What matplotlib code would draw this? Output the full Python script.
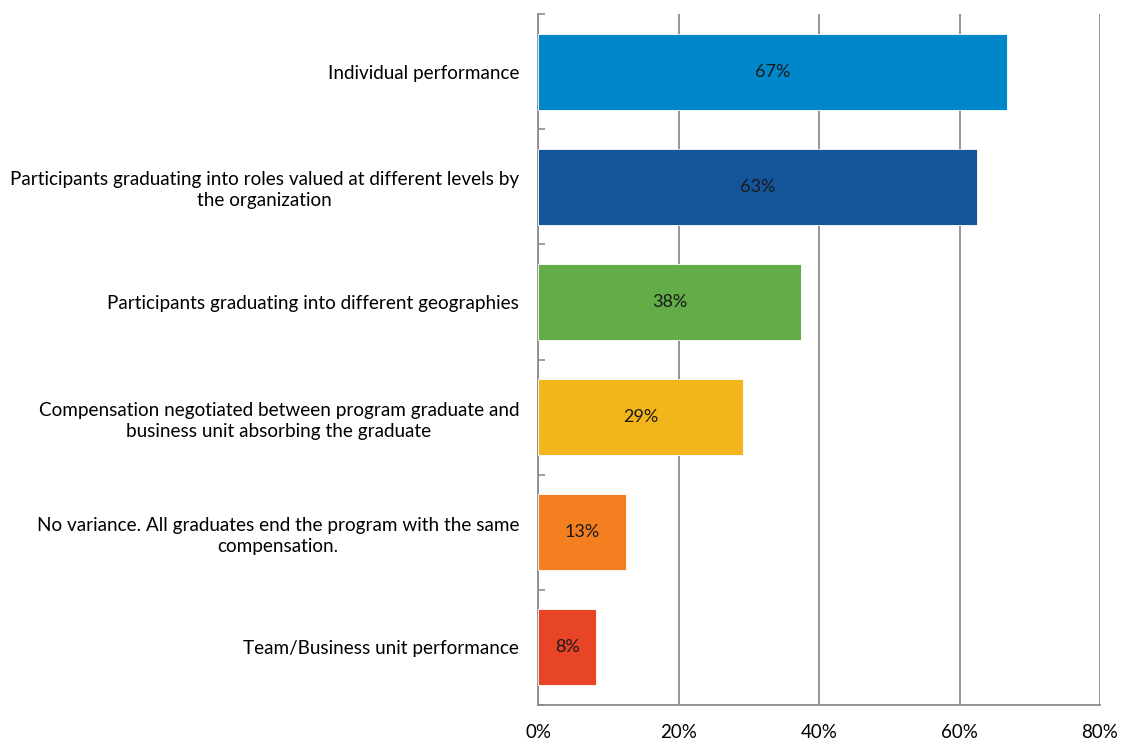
import matplotlib.pyplot as plt
import numpy as np

plt.rcParams['font.family'] = ['Lato', 'DejaVu Sans']

categories = [
    "Individual performance",
    "Participants graduating into roles valued at different levels by\nthe organization",
    "Participants graduating into different geographies",
    "Compensation negotiated between program graduate and\nbusiness unit absorbing the graduate",
    "No variance. All graduates end the program with the same\ncompensation.",
    "Team/Business unit performance",
]
values = [66.7, 62.5, 37.5, 29.2, 12.5, 8.3]
colors = ["#0087C9", "#14559A", "#62AD47", "#F2B51C", "#F47F20", "#E84426"]
xticks = [0, 20, 40, 60, 80]

fig = plt.figure(figsize=(11.23, 7.43), dpi=100)
ax = fig.add_axes([538 / 1123, 38 / 743, 562 / 1123, 691 / 743])

y = np.arange(len(categories))
ax.barh(y, values, height=0.66, color=colors, edgecolor="white", linewidth=0.6, zorder=3)

for yi, v in zip(y, values):
    ax.text(v / 2, yi, "{}%".format(int(v + 0.5)), ha="center", va="center",
            fontsize=13, color="#1a1a1a", zorder=4)

ax.set_xlim(0, 80)
ax.set_ylim(len(categories) - 0.5, -0.5)
ax.set_xticks(xticks)
ax.set_xticklabels(["{}%".format(t) for t in xticks], fontsize=13.5)
ax.xaxis.grid(True, color="#8C8C8C", linewidth=1.3, zorder=0)
ax.tick_params(axis="x", length=0, pad=14)

# category labels without ticks, boundary ticks on the left spine
ax.set_yticks(y)
ax.set_yticklabels(categories, fontsize=13.6, ha="right", multialignment="center", linespacing=1.3)
ax.tick_params(axis="y", length=0, pad=13.5)
ax.set_yticks(np.arange(-0.5, len(categories), 1), minor=True)
ax.tick_params(axis="y", which="minor", length=5, width=1.2, color="#8C8C8C", direction="in")

for side in ["top", "right"]:
    ax.spines[side].set_visible(False)
for side in ["left", "bottom"]:
    ax.spines[side].set_color("#8C8C8C")
    ax.spines[side].set_linewidth(1.3)

fig.savefig("out.png", dpi=100)
